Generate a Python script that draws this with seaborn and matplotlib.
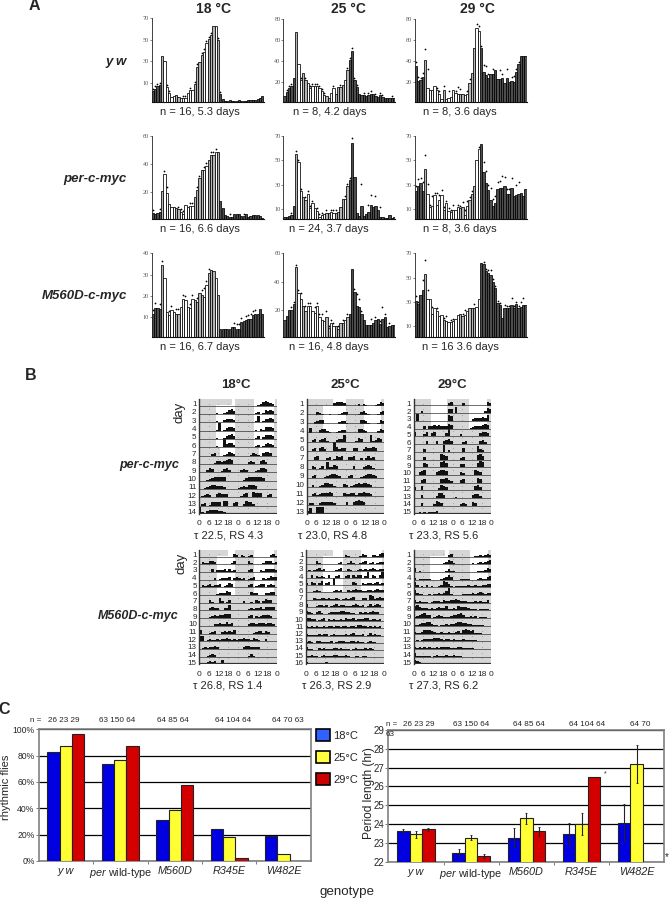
import numpy as np
import pandas as pd
import matplotlib
matplotlib.use("Agg")
import matplotlib.pyplot as plt
from matplotlib.patches import Patch
import seaborn as sns

sns.set_style("white")
plt.rcParams["font.family"] = ["Liberation Sans", "DejaVu Sans"]
plt.rcParams["mathtext.fontset"] = "custom"
plt.rcParams["mathtext.it"] = "Liberation Sans:italic"
plt.rcParams["mathtext.rm"] = "Liberation Sans"

W, H = 669, 900

# -------------------------------
# Panel A: activity histograms (bar height above the baseline)
# -------------------------------
yw_18 = [10, 12.5, 15, 16, 43, 38, 14, 8.5, 5, 6, 6.5, 5, 3.5, 3.5, 4, 8, 11.5, 11, 17, 33, 37.5, 44, 47, 55,
         59, 62, 71, 71, 58, 7, 3, 1, 1, 1.5, 1, 1, 1, 1.5, 1, 1, 1, 2, 1.5, 2, 1.5, 3, 4, 6]
yw_25 = [6, 9.5, 13, 15, 23, 67, 36, 21, 28, 21, 18, 13, 15, 15, 15, 13, 10, 7, 5.5, 4, 8.5, 13, 8, 14,
         14, 16, 21, 30, 40, 49, 21, 14, 8, 7, 7, 6, 7, 8, 8, 5.5, 5, 6.5, 5, 3.5, 3.5, 4, 4, 3.5]
yw_29 = [34, 20, 21, 24, 40, 13, 11, 11, 15, 11, 8, 3, 11, 3, 4, 5, 11, 8.5, 8, 8, 8, 7, 8, 18,
         28, 51, 70, 68, 51, 29, 26, 23, 27, 27, 30, 22, 22, 23, 18, 23, 19, 20, 19, 29, 36, 44, 44, 44]
per_18 = [4.8, 4, 4.3, 5, 20, 32, 19, 11, 9, 8.5, 8, 7, 5, 4, 10, 8.5, 9.5, 9.5, 16, 21, 29, 35, 35, 38,
          42, 46, 46, 48, 48, 13, 8, 3, 2, 1.7, 1.4, 3.5, 3.5, 3.5, 2, 2, 3.5, 1.4, 2, 3, 3, 3, 2, 1.2]
per_25 = [2, 2, 3, 3.5, 11, 54, 47, 23, 18, 16, 21, 9, 13, 9, 7, 2, 3.5, 4.4, 5.5, 5.5, 6, 5.5, 5.5, 6,
          10, 17, 17, 27, 32, 63, 34.5, 5.5, 3, 11, 3, 4.4, 6, 12, 10, 11, 8, 2, 1.6, 1.4, 1.1, 3.5, 1, 2]
per_29 = [23, 27, 30, 23, 41, 21, 10, 11, 20, 12, 16, 20, 8, 13, 7, 6, 8, 8, 10, 9, 10, 3.5, 11, 16,
          21, 27, 49, 57.5, 62, 39, 30, 24, 16, 11, 13, 25, 25.5, 26, 27, 21, 21, 26, 19, 20, 21, 22, 19, 25]
m560_18 = [10.8, 13.8, 13.8, 13.4, 33.8, 28, 12, 10.3, 12.7, 12, 11, 11, 14.2, 18, 17.3, 14.2, 13.5, 17.7,
           17.3, 16.5, 20.5, 20, 19, 24.4, 30, 31.4, 31, 28, 19.7, 3.6, 4, 4, 3.6, 4, 4.8, 4.5, 4, 4,
           7, 7.7, 8, 8.3, 8.7, 10.3, 10.8, 11, 13, 11]
m560_25 = [12, 15, 19, 19, 23, 49, 31, 27, 22, 18, 22, 22, 18, 17, 22, 14, 12, 11, 14, 6, 10, 8, 8, 5.5,
           10, 10, 12, 14, 16, 48, 32, 22, 21, 16, 12, 8.5, 8.5, 8.5, 10, 12, 12.6, 9, 13, 14, 7, 8, 8.5, 8.5]
m560_29 = [30, 27, 34.5, 38.6, 51.5, 31, 31, 19, 23.5, 21.6, 17, 18, 14, 13, 12, 12, 13, 15, 18, 19, 17, 18, 21, 23.5,
           24, 23.5, 25, 31, 60.5, 60, 54, 53, 51, 45.5, 40, 28, 26, 16, 24, 23.5, 23.5, 26, 23.5, 27, 23.5, 25, 26, 26]

# dots above the bars, distance from the bar top (digit x 2 units)
yw_18_dots = "111100110000011010110111110011000000000000000000"
yw_25_dots = "011100010101111111000100100111110010110101100010"
yw_29_dots = "221259000110203001320012002213420200420402311000"
per_18_dots = "100101200001110011011011011100000100000100000000"
per_25_dots = "000101110111101110101110001112000900340404000000"
per_29_dots = "232464141522111120112221100104525333354224045000"
m560_18_dots = "110110011011011011010121100000000001111011111000"
m560_25_dots = "000111120211021120211101010100143100020101410100"
m560_29_dots = "210464030100120110001200020001112111101113111230"

shade_18 = "ddddgwwwwwggwwwwwwggggwwgggwg" + "d" * 19
shade_25 = "dddddgwwggwwwwwwwwggwwggggwg" + "d" * 20
shade_29 = "ddddgwwwwwwwgwwwwwwggwwgggww" + "d" * 20

ticks_a = [10, 30, 50, 70]
ticks_b = [20, 40, 60, 80]
ticks_c = [20, 40, 60]
ticks_d = [10, 20, 30, 40]

bar_colors = {"d": "#4d4d4d", "g": "#b4b4b4", "w": "#ffffff"}

# -------------------------------
# Panel B: actograms, one string per day, digit = height of 1.5 h bin
# -------------------------------
per18_rows = ["00000000000000000000000012454320",
              "00000001001245300000000120143430",
              "00000001002333200000000160133430",
              "00000001801344300000000102144430",
              "00000001001345300000000130244430",
              "00000001008344200000000120134320",
              "00000230001243200000013210344300",
              "00000013323454000000232003420000",
              "00024300013420000232000124430000",
              "00012344444000000013444444300000",
              "00123443332000001232444300000000",
              "01232003433300000134005444002300",
              "02301444405500340025442000000000",
              "72034444332000000000000000000000"]
per25_rows = ["00000000000344430000020210001243",
              "00003210010001233000013421000134",
              "00023440000002331000004431000143",
              "05000344210012330000044320000243",
              "00230234100023370000143000712430",
              "00230342000942330003300243343000",
              "00034000230143400334002024230000",
              "00320130722430000003000234310000",
              "00230001234432000230001234432000",
              "00200124433100032012343443200000",
              "00231233343000032233133433200000",
              "02200233333200003003454300000000",
              "36007770000000000000000000000000"]
per29_rows = ["00000000000000340000300000000043",
              "00020000000000440600000000000254",
              "07000000000000650000000023334360",
              "00003033434333540000000123334540",
              "40002403400003900002000000034430",
              "00000300030034530000230000034200",
              "00003000000070200000400000632000",
              "00003000000654000002300000564000",
              "00004300000564000003300000465000",
              "00345000034554000003200005430000",
              "00034000000445320003400000540000",
              "30040000002543000000000004530000",
              "00030000025530000100000034420000",
              "00030000254300000002320043000000",
              "00212122230000000000000000000000"]
m560_18_rows = ["00000000000000320210120000000231",
                "02113320000001300000310000133312",
                "00000302223131200000230002133332",
                "00000020122230232120123000212433",
                "02123122301243000000230123302320",
                "00000001222430000000032200022330",
                "00003100520130000020010320243300",
                "00002322002250000000121223133330",
                "00001232334440000000230212333200",
                "00000022322423000000233233323320",
                "40001230023232400000001233132000",
                "55012112122321212232213210020000",
                "01212232000000000023322220000000",
                "00012320000000000000131000000000",
                "00123230040000000000000000000000"]
m560_25_rows = ["00000000000000002100001320022134",
                "00003100000001200131001230120122",
                "01012312000012300210012121232122",
                "00302121030023002303133026032036",
                "20320240230700000003200212212312",
                "00012100000121200212322112212322",
                "00021122121121012123000220541232",
                "30001221201231221112321201312320",
                "32102310012222332211002121232200",
                "33220123021211213223122233122120",
                "21212112122122122122133221212120",
                "21111212201211112123111201312110",
                "12102211112012221122121101211000",
                "31100212111221211101211121210000",
                "11211012111221112100110110000000",
                "21111111210000000000000000000000"]
m560_29_rows = ["00000000000000230000000001121232",
                "00000000000012431000000010121234",
                "40100000000001311000000000111243",
                "20111110000123530001111000121134",
                "52010201001265310111112112112233",
                "52110010112124710000111121232122",
                "31211101222132233432221112121130",
                "45322212123224112143332111011110",
                "12345330123211123345311212011100",
                "11233442110112122344332211111000",
                "21124443211211211231454341110000",
                "01012222333212212111211111000000",
                "21212121121222211122111110000000",
                "41111110121112112111000000000000",
                "43210010000000000000000000000000"]

# white light-phase windows: first day, last day, start hour, end hour
per18_white = [(0, 0, 20.5, 22), (0, 0, 34, 47), (1, 5, 10.5, 22.5), (1, 5, 34, 46.5), (6, 6, 13, 22), (6, 6, 37, 44)]
per25_white = [(0, 0, 16.5, 24), (0, 0, 35.5, 46), (1, 3, 10, 24), (1, 3, 35.5, 46)]
per29_white = [(0, 3, 10.5, 20.4), (0, 3, 34, 45)]
m560_18_white = [(0, 0, 18, 22), (0, 0, 34, 46), (1, 5, 10.7, 22), (1, 5, 34, 46)]
m560_25_white = [(0, 0, 16.6, 22.8), (0, 0, 34, 47), (1, 5, 10.7, 22.8), (1, 5, 34, 47)]
m560_29_white = [(0, 0, 19.4, 22), (0, 0, 34.8, 46.2), (1, 3, 10.1, 22), (1, 3, 34.8, 46.2)]

hour_ticks = [0, 6, 12, 18, 24, 30, 36, 42, 48]
hour_labels = ["0", "6", "12", "18", "0", "6", "12", "18", "0"]

# -------------------------------
# Panel C: rhythmic flies and period length
# -------------------------------
genotypes = ["y w", r"$\mathit{per}$ wild-type", "M560D", "R345E", "W482E"]
temps = ["18°C", "25°C", "29°C"]
rhythmic_18 = [83, 74, 31.5, 24, 19]
rhythmic_25 = [87, 76.5, 39, 18.5, 5.5]
rhythmic_29 = [96.5, 87, 58, 2, 0]
period_18 = [23.63, 22.47, 23.27, 23.47, 24.08]
period_25 = [23.45, 23.28, 24.3, 24.0, 27.2]
period_29 = [23.72, 22.3, 23.62, 26.5, np.nan]
period_err_18 = [0.1, 0.2, 0.5, 0.6, 1.0]
period_err_25 = [0.2, 0.13, 0.3, 0.6, 1.0]
period_err_29 = [0.07, 0.1, 0.25, 0, 0]
temp_colors = ["#0000e0", "#ffff33", "#d40000"]
legend_colors = ["#3060ff", "#ffff40", "#cc0000"]

fig = plt.figure(figsize=(W / 100, H / 100), dpi=100, facecolor="white")


def px_axes(left, top, right, bottom):
    return fig.add_axes([left / W, 1 - bottom / H, (right - left) / W, (bottom - top) / H])


def label(x, y, s, ha="center", size=8, **kw):
    fig.text(x / W, 1 - y / H, s, ha=ha, va="center", fontsize=size, **kw)


def histogram(left, top, bottom, values, dots, shade, ticks, offset):
    ax = px_axes(left, top, left + 112, bottom)
    df = pd.DataFrame({"bin": range(48), "value": values, "phase": list(shade)})
    sns.barplot(data=df, x="bin", y="value", hue="phase", palette=bar_colors, dodge=False, native_scale=True,
                width=1, edgecolor="black", linewidth=0.55, legend=False, saturation=1, ax=ax)
    shown = [i for i, d in enumerate(dots) if d != "0"]
    sns.scatterplot(x=shown, y=[values[i] + 2 * int(dots[i]) for i in shown], s=1.6, color="black",
                    linewidth=0, ax=ax)
    ax.set_xlim(-0.5, 47.5)
    ax.set_ylim(0, ticks[-1] + offset)
    ax.set_yticks([t + offset for t in ticks], [str(t) for t in ticks])
    ax.set_xticks([])
    ax.set_xlabel("")
    ax.set_ylabel("")
    ax.tick_params(axis="y", length=1.5, width=0.4, pad=0.5, labelsize=4.5, labelcolor="#555555", left=True)
    for t in ax.get_yticklabels():
        t.set_family("Liberation Serif")
    for side in ["top", "right"]:
        ax.spines[side].set_visible(False)
    ax.spines["left"].set_linewidth(0.6)
    ax.spines["bottom"].set_linewidth(0.8)
    ax.spines["left"].set_color("#222222")
    ax.spines["bottom"].set_color("#111111")
    ax.patch.set_alpha(0)


# Panel A layout: three columns, three rows
histogram(151.5, 18.3, 102, yw_18, yw_18_dots, shade_18, ticks_a, 8)
histogram(283.3, 19, 102, yw_25, yw_25_dots, shade_25, ticks_b, -1)
histogram(414.7, 19, 102, yw_29, yw_29_dots, shade_29, ticks_b, -1)
histogram(151.5, 136, 219.3, per_18, per_18_dots, shade_18, ticks_c, -0.8)
histogram(283.3, 136, 219.3, per_25, per_25_dots, shade_25, ticks_a, -1.5)
histogram(414.7, 136, 219.3, per_29, per_29_dots, shade_29, ticks_a, -1.5)
histogram(151.5, 253.3, 337, m560_18, m560_18_dots, shade_18, ticks_d, -0.6)
histogram(283.3, 253.3, 337, m560_25, m560_25_dots, shade_25, ticks_c, -1)
histogram(414.7, 253.3, 337, m560_29, m560_29_dots, shade_29, ticks_a, -1.2)

label(34, 6, "A", size=11.5, fontweight="bold")
for x, s in zip([214, 348.7, 477], ["18 °C", "25 °C", "29 °C"]):
    label(x, 9.3, s, size=10, fontweight="bold")
for y, s in zip([62.3, 179, 296], ["y w", "per-c-myc", "M560D-c-myc"]):
    label(126.7, y, s, ha="right", size=9.5, fontweight="bold", fontstyle="italic")
label(200, 112.3, "n = 16, 5.3 days")
label(329.3, 112.3, "n = 8, 4.2 days")
label(460, 112.3, "n = 8, 3.6 days")
label(200, 229.3, "n = 16, 6.6 days")
label(329.3, 229.3, "n = 24, 3.7 days")
label(460, 229.3, "n = 8, 3.6 days")
label(200, 347.3, "n = 16, 6.7 days")
label(329.3, 347.3, "n = 16, 4.8 days")
label(460, 347.3, "n = 16 3.6 days")


def actogram(left, top, bottom, rows, white, caption, cap_x, cap_y):
    right = left + 77.7
    ax = px_axes(left, top, right, bottom)
    ax.set_facecolor("#d6d6d6")
    n = len(rows)
    spacing = (bottom - top - 6.5) / (n - 1)
    for first, last, h0, h1 in white:
        ax.fill_between([h0, h1], (n - 1 - last) * spacing, (n - first) * spacing + 1, color="white", linewidth=0)
    ax.grid(axis="x", color="#666666", linestyle=(0, (0.6, 6)), linewidth=0.6)
    ax.set_axisbelow(True)
    bins = np.arange(32) * 1.5 + 0.75
    for i, row in enumerate(rows):
        base = (n - 1 - i) * spacing
        heights = [int(c) for c in row.ljust(32, "0")[:32]]
        sns.barplot(x=bins, y=heights, bottom=base, native_scale=True, width=1, color="#111111",
                    linewidth=0, saturation=1, ax=ax)
        ax.axhline(base, color="#333333", linewidth=0.5 if i < n - 1 else 1.6)
        label(left - 2.5, bottom - base - 1, str(i + 1), ha="right", size=5.8)
    ax.set_xlim(0, 48)
    ax.set_ylim(0, bottom - top)
    ax.set_xticks(hour_ticks, hour_labels)
    ax.set_yticks([])
    ax.set_xlabel("")
    ax.set_ylabel("")
    ax.tick_params(axis="x", length=0, pad=4.5, labelsize=6)
    for side in ["top", "right", "bottom"]:
        ax.spines[side].set_visible(False)
    ax.spines["left"].set_color("#333333")
    ax.spines["left"].set_linewidth(1)
    label(cap_x, cap_y, caption, size=8)


actogram(199, 399, 514, per18_rows, per18_white, "τ 22.5, RS 4.3", 229, 536)
actogram(306.7, 399, 513.5, per25_rows, per25_white, "τ 23.0, RS 4.8", 333, 536)
actogram(413.7, 399, 513.5, per29_rows, per29_white, "τ 23.3, RS 5.6", 444, 536)
actogram(199.3, 550, 664.3, m560_18_rows, m560_18_white, "τ 26.8, RS 1.4", 228, 685.7)
actogram(306, 550, 664.3, m560_25_rows, m560_25_white, "τ 26.3, RS 2.9", 336.5, 685.7)
actogram(413.7, 550, 664.3, m560_29_rows, m560_29_white, "τ 27.3, RS 6.2", 444, 685.7)

label(31, 375, "B", size=11.5, fontweight="bold")
for x, s in zip([236, 345, 452], temps):
    label(x, 385, s, size=9.5, fontweight="bold")
label(179, 465, "per-c-myc", ha="right", size=9, fontweight="bold", fontstyle="italic")
label(179, 616, "M560D-c-myc", ha="right", size=9, fontweight="bold", fontstyle="italic")
label(180, 412.7, "day", size=9.5, rotation=90)
label(182, 563, "day", size=9.5, rotation=90)


def bar_chart(ax, df, ymin, ymax):
    sns.barplot(data=df, x="genotype", y="value", hue="temp", palette=temp_colors, width=0.68, gap=0,
                edgecolor="#222222", linewidth=0.8, legend=False, saturation=1, ax=ax, zorder=3)
    ax.set_ylim(ymin, ymax)
    ax.set_xlim(-0.5, 4.5)
    ax.set_xlabel("")
    ax.set_ylabel("")
    ax.yaxis.grid(True, color="black", linewidth=0.9)
    ax.set_axisbelow(True)
    ax.set_xticks(range(5), genotypes)
    ax.set_xticks([0.5, 1.5, 2.5, 3.5], minor=True)
    ax.tick_params(axis="x", which="major", length=0, pad=3.5, labelsize=7.8)
    ax.tick_params(axis="x", which="minor", bottom=True, length=2, width=0.6, color="#666666")
    ax.tick_params(axis="y", left=True, length=2, width=0.6, color="#666666", pad=1)
    for i, t in enumerate(ax.get_xticklabels()):
        if i != 1:
            t.set_fontstyle("italic")
    for spine in ax.spines.values():
        spine.set_color("#808080")
        spine.set_linewidth(1.2)


def long_form(s18, s25, s29):
    return pd.DataFrame({"genotype": genotypes * 3,
                         "temp": [t for t in temps for _ in genotypes],
                         "value": s18 + s25 + s29})


ax_left = px_axes(38.7, 729.3, 310.7, 861)
bar_chart(ax_left, long_form(rhythmic_18, rhythmic_25, rhythmic_29), 0, 100)
ax_left.set_yticks(range(0, 101, 20), [f"{v}%" for v in range(0, 101, 20)])
ax_left.tick_params(axis="y", labelsize=6.2)

ax_right = px_axes(388.3, 730, 664.3, 861.7)
bar_chart(ax_right, long_form(period_18, period_25, period_29), 22, 29)
ax_right.set_yticks(range(22, 30), [str(v) for v in range(22, 30)])
ax_right.tick_params(axis="y", labelsize=7)
for cont, errs in zip(ax_right.containers, [period_err_18, period_err_25, period_err_29]):
    for bar, e in zip(cont, errs):
        if e > 0:
            ax_right.errorbar(bar.get_x() + bar.get_width() / 2, bar.get_height(), yerr=e, color="#222222",
                              linewidth=0.8, capsize=1, capthick=0.6, zorder=5)

fig.legend(handles=[Patch(facecolor=c, edgecolor="black", linewidth=1.2, label=t)
                    for c, t in zip(legend_colors, temps)],
           loc="upper left", bbox_to_anchor=(314 / W, 1 - 727 / H), frameon=False, fontsize=8,
           handlelength=1.2, handleheight=1.2, handletextpad=0.35, labelspacing=0.95, borderpad=0.2, borderaxespad=0)

label(35.5, 721, "n =", size=5.8)
for x, s in zip([63.5, 117, 172.7, 233, 287.5], ["26 23 29", "63 150 64", "64 85 64", "64 104 64", "64 70 63"]):
    label(x, 721, s, size=5.9)
label(391.7, 724, "n =", size=5.8)
for x, s in zip([419, 470.7, 528.7, 587, 640], ["26 23 29", "63 150 64", "64 85 64", "64 104 64", "64 70"]):
    label(x, 724, s, size=5.9)
label(390, 734, "63", size=5.8)
label(605.7, 773.5, "*", size=5)
label(667, 857, "*", size=7)
label(6, 787, "rhythmic flies", size=8, rotation=90)
label(369, 793, "Period length (hr)", size=8.6, rotation=90)
label(347, 892.5, "genotype", size=9.6)
label(4, 710, "C", size=11.5, fontweight="bold")

fig.savefig("out.png", dpi=100)
